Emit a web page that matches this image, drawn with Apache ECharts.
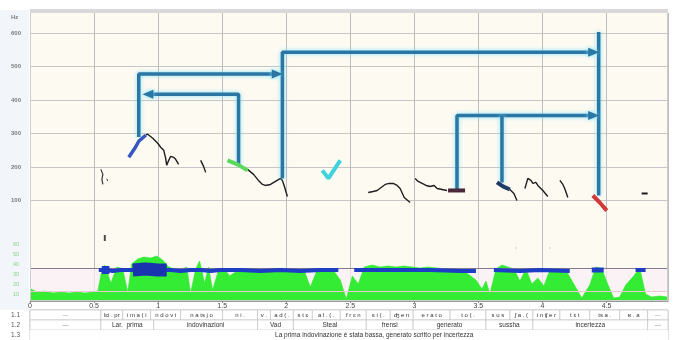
<!DOCTYPE html>
<html><head><meta charset="utf-8">
<script src="https://cdn.jsdelivr.net/npm/echarts@6/dist/echarts.min.js"></script>
<style>html,body{margin:0;padding:0;background:#fff}#c{width:673px;height:340px}</style>
</head><body><div id="c"></div>
<script>
// ================= DATA =================
const timeMin = 0, timeMax = 4.98, timeStep = 0.5;
const pitchMin = 0, pitchMax = 660, pitchStep = 100;
const intensityMin = 0, intensityMax = 67, intensityStep = 10;

// pitch contours [time s, Hz]
const contourA = [[0.553,193],[0.569,178],[0.561,163],[0.569,148]];
const contourA2 = [[0.600,165],[0.607,158]];
const contourBlue = [[0.771,229],[0.818,256],[0.849,277],[0.903,295]];
const contourC = [[0.903,295],[0.919,298],[0.958,286],[0.997,271],[1.020,259],[1.044,250],[1.059,226],[1.067,205],[1.083,220],[1.098,232],[1.121,229],[1.137,223],[1.160,208]];
const contourD = [[1.332,220],[1.355,202],[1.371,184]];
const contourGreen = [[1.542,220],[1.620,208],[1.698,190]];
const contourF = [[1.698,193],[1.745,178],[1.783,160],[1.815,148],[1.838,145],[1.877,148],[1.916,157],[1.955,166],[1.970,160],[1.986,142],[2.009,112]];
const contourCyan = [[2.282,190],[2.329,166],[2.422,220]];
const contourH = [[2.640,124],[2.679,127],[2.710,130],[2.741,139],[2.773,148],[2.804,151],[2.835,151],[2.866,145],[2.889,136],[2.921,109],[2.967,94]];
const contourI = [[3.006,166],[3.030,157],[3.061,151],[3.092,145],[3.123,142],[3.154,145],[3.178,136],[3.217,133],[3.255,130]];
const contourDark = [[3.263,130],[3.396,130]];
const contourNavy = [[3.645,154],[3.692,142],[3.746,133]];
const contourL = [[3.746,133],[3.777,121],[3.801,100]];
const contourM = [[3.863,136],[3.886,166],[3.910,160],[3.925,151],[3.949,154],[3.964,145],[4.003,130],[4.042,112]];
const contourN = [[4.136,160],[4.159,148],[4.174,136],[4.198,109]];
const contourRed = [[4.393,115],[4.447,94],[4.502,70]];
const contourP = [[4.774,121],[4.821,121]];

// annotation arrows [time s, Hz]
const arrow1 = [[0.849,290],[0.849,478],[1.930,478]];
const arrow2 = [[1.628,205],[1.628,417],[0.920,417]];
const arrow3 = [[1.970,166],[1.970,543],[4.400,543]];
const arrow4 = [[3.333,130],[3.333,354],[4.400,354]];
const stem5 = [[3.684,354],[3.684,154]];
const stem6 = [[4.439,603],[4.439,115]];

// intensity (green) [time s, level]
const intensityGreen = [[0.008,12],[0.055,9],[0.117,10],[0.179,8],[0.241,9],[0.304,8],[0.366,9],[0.428,8],[0.491,9],[0.530,10],
[0.553,26],[0.584,36],[0.631,18],[0.678,34],[0.724,32],[0.763,9],[0.794,37],[0.841,42],[0.888,44],[0.942,43],[0.989,45],[1.036,41],
[1.083,34],[1.129,32],[1.176,31],[1.223,34],[1.254,8],[1.293,32],[1.324,40],[1.363,18],[1.394,34],[1.425,11],[1.472,31],[1.519,32],
[1.558,25],[1.604,29],[1.643,31],[1.706,30],[1.768,31],[1.830,30],[1.893,31],[1.955,30],[2.017,31],[2.079,29],[2.142,30],[2.188,14],
[2.235,29],[2.298,31],[2.360,32],[2.422,21],[2.469,2],[2.516,25],[2.562,17],[2.609,34],[2.671,36],[2.734,34],[2.796,35],[2.858,34],
[2.921,35],[2.983,34],[3.045,33],[3.107,34],[3.170,33],[3.232,32],[3.294,31],[3.357,31],[3.419,27],[3.481,21],[3.528,12],[3.559,20],
[3.590,7],[3.637,32],[3.684,36],[3.731,34],[3.777,32],[3.824,20],[3.871,32],[3.917,17],[3.964,23],[4.011,15],[4.058,31],[4.120,32],
[4.182,31],[4.245,17],[4.307,3],[4.369,16],[4.416,34],[4.463,32],[4.509,17],[4.556,3],[4.603,4],[4.650,16],[4.712,25],[4.759,33],
[4.805,7],[4.852,4],[4.914,5],[4.977,4]];

// energy band (blue) segments [time s, level]
const energySeg1 = [[0.537,31],[0.600,31],[0.646,30],[0.709,31],[0.771,31],[1.098,31],[1.176,30],[1.254,31],[1.332,31],[1.410,30],[1.488,31],[1.565,31],[1.643,31],[1.799,30],[1.955,31],[2.111,30],[2.266,31],[2.407,31]];
const energySeg2 = [[2.531,31],[2.656,31],[2.889,31],[3.123,31],[3.357,30],[3.481,30]];
const energySeg3 = [[3.621,31],[3.824,30],[3.980,31],[4.213,30]];
const energySeg4 = [[4.385,31],[4.478,31]];
const energySeg5 = [[4.727,31],[4.805,31]];
const energyBlob = [[0.802,31],[0.900,32],[1.000,31],[1.067,31]];
const energySmallBlob = [[0.560,31],[0.620,31]];
const stray = [[0.584,63]];
const strayFaint = [[3.793,53],[4.058,53]];
const refLevels = [33, 10];

// annotation tiers
const tierRowNames = ['1.1','1.2','1.3'];
const tier1Bounds = [0,0.553,0.724,0.942,1.176,1.503,1.776,1.877,2.056,2.204,2.422,2.625,2.812,2.991,3.279,3.559,3.746,3.925,4.136,4.369,4.603,4.821,4.98];
const tier1Labels = ['—','lɛi . pr','i m a ( i','n d o v i','n a ts j o','n i .','v .','a d ( .','s t ɛ','a l . ( .','f r ɛ n','s i ( .','ʤ e n','e r a t o','t o ( .','s u s','ʃ a . (','i n ʧ e r','t ɛ t','ts a .','ɐ . a','—'];
const tier2Bounds = [0,0.553,0.966,1.776,2.056,2.625,2.991,3.559,3.925,4.821,4.98];
const tier2Labels = ['—','Lar.  prima','indovinazioni','Vad','Steal','frensi','generato','sussha','incertezza','—'];
const tier3Bounds = [0,0.553,4.821,4.98];
const tier3Labels = ['','La prima indovinazione è stata bassa, generato scritto per incertezza',''];

// ================= CHART =================
const chart = echarts.init(document.getElementById('c'));
const FONT = 'Liberation Sans, Arial, sans-serif';

function contour(data, color, width, z) {
  return { type:'line', xAxisIndex:0, yAxisIndex:0, data, symbol:'none', z: z||5,
    lineStyle:{ color, width }, silent:true, animation:false };
}
function arrow(data) {
  const n = data.length;
  const last = data[n-1], prev = data[n-2];
  let rot = null;
  if (last[1] === prev[1]) rot = last[0] > prev[0] ? -90 : 90;
  return { type:'line', xAxisIndex:0, yAxisIndex:0, z:8, animation:false,
    showSymbol:true, symbol:'none',
    data: data.map((p,i)=> (i===n-1 && rot!==null) ? { value:p, symbol:'triangle', symbolSize:[9,11], symbolRotate:rot } : { value:p, symbol:'none' }),
    lineStyle:{ color:'#2c76a4', width:3.5, shadowColor:'rgba(120,225,250,0.95)', shadowBlur:4 },
    itemStyle:{ color:'#2c76a4', shadowColor:'rgba(120,225,250,0.95)', shadowBlur:4 } };
}
function energy(data, width, color) {
  return { type:'line', xAxisIndex:1, yAxisIndex:1, data, symbol:'none', z:6, animation:false,
    lineStyle:{ color, width } };
}

// tier cells
const cells = [];
[[tier1Bounds,tier1Labels],[tier2Bounds,tier2Labels],[tier3Bounds,tier3Labels]].forEach((t,row)=>{
  for (let i=0;i<t[1].length;i++) cells.push({ s:t[0][i], e:t[0][i+1], row, label:t[1][i] });
});

const option = {
  animation:false,
  backgroundColor:'#ffffff',
  grid:[
    { left:30, top:13, width:638, height:221, show:true, backgroundColor:'#fdfaf2', borderWidth:0 },
    { left:30, top:234, width:638, height:67, show:true, backgroundColor:'#fdfaf2', borderWidth:0 },
    { left:30, top:310, width:638, height:30, show:true, backgroundColor:'#ffffff', borderColor:'#c8c8c8', borderWidth:1 }
  ],
  xAxis:[
    { gridIndex:0, type:'value', min:timeMin, max:timeMax, interval:timeStep,
      axisLine:{show:false}, axisTick:{show:false}, axisLabel:{show:false},
      splitLine:{show:true, lineStyle:{color:'#bdbdbd', width:1}} },
    { gridIndex:1, type:'value', min:timeMin, max:timeMax, interval:timeStep,
      axisLine:{show:true, lineStyle:{color:'#9a9a9a'}}, axisTick:{show:true, length:2, lineStyle:{color:'#888'}},
      axisLabel:{show:true, fontSize:7, color:'#444', margin:2, fontFamily:FONT, showMaxLabel:false, formatter:v=>String(v)},
      splitLine:{show:true, lineStyle:{color:'#bdbdbd', width:1}} },
    { gridIndex:2, type:'value', min:timeMin, max:timeMax, show:false }
  ],
  yAxis:[
    { gridIndex:0, type:'value', min:pitchMin, max:pitchMax, interval:pitchStep,
      axisLine:{show:true, lineStyle:{color:'#b0b0b0'}}, axisTick:{show:false},
      axisLabel:{fontSize:6, color:'#7a7a7a', fontWeight:'bold', margin:9, showMinLabel:false, showMaxLabel:false, fontFamily:FONT},
      splitLine:{show:true, showMinLine:false, showMaxLine:false, lineStyle:{color:'#c6c6c6'}} },
    { gridIndex:1, type:'value', min:intensityMin, max:intensityMax, interval:intensityStep,
      axisLine:{show:true, lineStyle:{color:'#b0b0b0'}}, axisTick:{show:false},
      axisLabel:{fontSize:5.5, color:'#86d486', margin:11, showMinLabel:false, showMaxLabel:false, verticalAlign:'top', fontFamily:FONT},
      splitLine:{show:false} },
    { gridIndex:2, type:'category', data:tierRowNames, inverse:true,
      axisLine:{show:false}, axisTick:{show:false},
      axisLabel:{fontSize:6.5, color:'#555', margin:10, fontFamily:FONT},
      splitLine:{show:true, lineStyle:{color:'#c8c8c8'}} }
  ],
  graphic:[
    { type:'rect', shape:{x:0,y:10,width:29,height:300}, style:{fill:'#f2f5f9'}, z:-10, silent:true },
    { type:'rect', shape:{x:30.5,y:12.5,width:637,height:288}, style:{fill:'none', stroke:'#cdcdcd', lineWidth:1}, z:20, silent:true },
    { type:'rect', shape:{x:30,y:9,width:638,height:4}, style:{fill:'#d8d8d8'}, z:21, silent:true },
    { type:'text', x:11, y:14, style:{text:'Hz', fontSize:6, fill:'#7a7a7a', fontWeight:'bold', fontFamily:FONT}, z:10, silent:true }
  ],
  series:[
    // intensity
    { type:'line', xAxisIndex:1, yAxisIndex:1, data:intensityGreen, symbol:'none', z:3,
      lineStyle:{color:'#2fe82f', width:0.6}, areaStyle:{color:'#33ec33', opacity:1},
      markArea:{ silent:true, itemStyle:{color:'rgba(248,238,245,0.7)'}, data:[[{yAxis:refLevels[1]},{yAxis:refLevels[0]}]] },
      markLine:{ silent:true, symbol:'none', label:{show:false},
        data:[{yAxis:refLevels[0], lineStyle:{color:'#857a90', width:1, type:'solid'}},
              {yAxis:refLevels[1], lineStyle:{color:'#efc6d6', width:1, type:'solid'}}] } },
    energy(energySeg1, 4, '#1d3ec4'),
    energy(energySeg2, 4, '#1d3ec4'),
    energy(energySeg3, 4, '#1d3ec4'),
    energy(energySeg4, 5, '#1d3ec4'),
    energy(energySeg5, 4, '#1d3ec4'),
    energy(energyBlob, 13, '#1a34b0'),
    energy(energySmallBlob, 8, '#1d3ec4'),
    { type:'scatter', xAxisIndex:1, yAxisIndex:1, data:stray, symbol:'rect', symbolSize:[2,6], itemStyle:{color:'#222'} },
    { type:'scatter', xAxisIndex:1, yAxisIndex:1, data:strayFaint, symbol:'circle', symbolSize:2, itemStyle:{color:'#cfcfcf'} },
    // pitch contours
    contour(contourA, '#333', 1.2),
    contour(contourA2, '#444', 1),
    contour(contourC, '#1e1e1e', 1.4),
    contour(contourD, '#1e1e1e', 1.4),
    contour(contourF, '#1e1e1e', 1.4),
    contour(contourH, '#1e1e1e', 1.4),
    contour(contourI, '#1e1e1e', 1.4),
    contour(contourL, '#1e1e1e', 1.4),
    contour(contourM, '#1e1e1e', 1.4),
    contour(contourN, '#1e1e1e', 1.4),
    contour(contourP, '#1e1e1e', 2),
    // annotation arrows
    arrow(arrow1), arrow(arrow2), arrow(arrow3), arrow(arrow4), arrow(stem5), arrow(stem6),
    // coloured contour highlights
    contour(contourBlue, '#3656c4', 3.5, 9),
    contour(contourGreen, '#5ad85a', 4, 9),
    contour(contourCyan, '#3fd3dc', 4, 9),
    contour(contourDark, '#4a2838', 4, 9),
    contour(contourNavy, '#1f3a66', 4, 9),
    contour(contourRed, '#d23a3a', 4, 9),
    // tiers
    { type:'custom', xAxisIndex:2, yAxisIndex:2, z:4, animation:false,
      data: cells.map(c=>[c.s, c.e, c.row]),
      renderItem:(params, api)=>{
        const c = cells[params.dataIndex];
        const p0 = api.coord([api.value(0), api.value(2)]);
        const p1 = api.coord([api.value(1), api.value(2)]);
        const h = api.size([0,1])[1];
        const small = c.row === 0;
        return { type:'group', children:[
          { type:'rect', shape:{x:p0[0], y:p0[1]-h/2, width:p1[0]-p0[0], height:h},
            style:{fill:'#ffffff', stroke: c.row===2 ? 'rgba(0,0,0,0)' : '#c4c4c4', lineWidth:0.7} },
          { type:'text', style:{ text:c.label, x:(p0[0]+p1[0])/2, y:p0[1], align:'center', verticalAlign:'middle',
              fontSize: small ? 6 : 6.5, fill: c.label==='—' ? '#999' : '#333', fontFamily:FONT } }
        ]};
      } }
  ]
};
chart.setOption(option);
</script></body></html>
